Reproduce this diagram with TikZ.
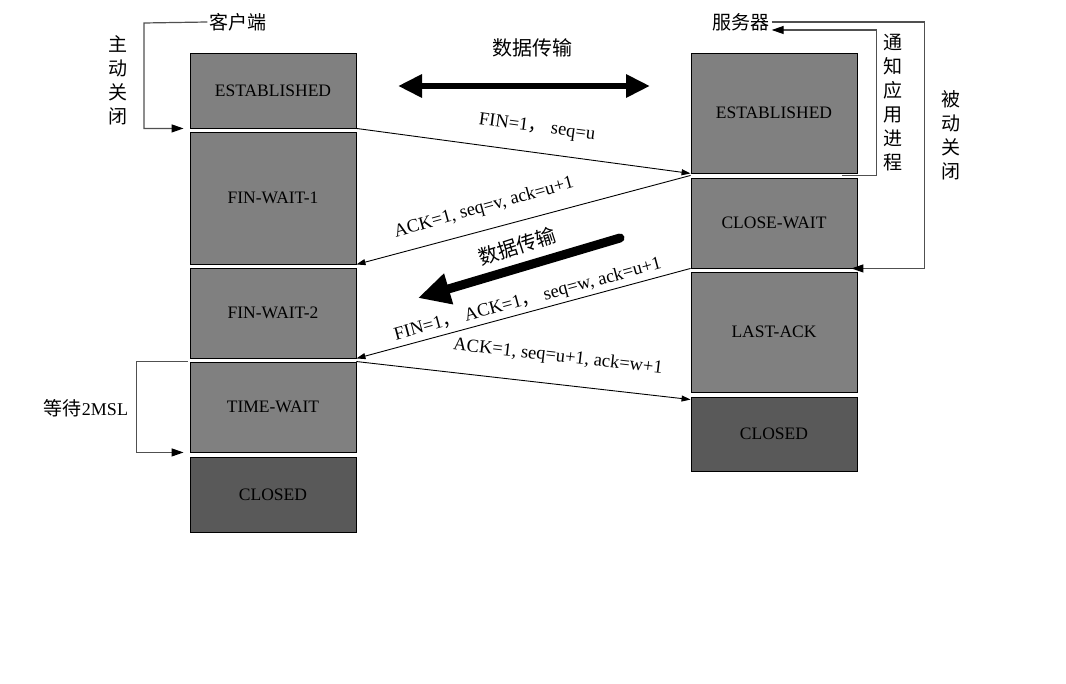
\documentclass[tikz,border=0pt]{standalone}
\usepackage{fontspec}
\setmainfont{Liberation Serif}
\newfontfamily\cjk{Noto Sans CJK SC}
\usetikzlibrary{arrows.meta}
\definecolor{boxgray}{HTML}{808080}
\definecolor{boxdark}{HTML}{595959}
\definecolor{brkgray}{HTML}{505050}
\begin{document}
\begin{tikzpicture}[x=1pt,y=-1pt,
  box/.style={draw=black, line width=0.9pt, fill=boxgray, minimum width=166pt, inner sep=0pt, font=\fontsize{17.5}{20}\selectfont},
  darkbox/.style={box, fill=boxdark},
  msg/.style={draw=black, line width=0.9pt, -{Triangle[length=9pt,width=6pt]}},
  brk/.style={draw=brkgray, line width=1.2pt, -{Triangle[length=12pt,width=8pt,color=black]}},
  lbl/.style={font=\fontsize{18.5}{22}\selectfont, inner sep=0pt},
  cjklbl/.style={font=\cjk\fontsize{19}{24}\selectfont, inner sep=2pt},
  vtext/.style={font=\cjk\fontsize{19}{24}\selectfont, align=center, inner sep=0pt}
]
\useasboundingbox (0,0) rectangle (1066,684);

% client boxes
\node[box, minimum height=75pt]  (lE)  at (273,90.5) {ESTABLISHED};
\node[box, minimum height=132pt] (lF1) at (273,198) {FIN-WAIT-1};
\node[box, minimum height=90pt]  (lF2) at (273,313) {FIN-WAIT-2};
\node[box, minimum height=90pt]  (lTW) at (273,407) {TIME-WAIT};
\node[darkbox, minimum height=75pt] (lC) at (273,494.5) {CLOSED};

% server boxes
\node[box, minimum height=120pt] (rE)  at (774,113) {ESTABLISHED};
\node[box, minimum height=90pt]  (rCW) at (774,223) {CLOSE-WAIT};
\node[box, minimum height=120pt] (rLA) at (774,332) {LAST-ACK};
\node[darkbox, minimum height=74pt] (rC) at (774,434) {CLOSED};

% headings
\node[cjklbl] (client) at (238,22) {客户端};
\node[cjklbl] (server) at (741,22) {服务器};
\node[cjklbl, font=\cjk\fontsize{20}{24}\selectfont] (dt1) at (532,48) {数据传输};

% vertical labels
\node[vtext] (active) at (118,80) {主\\动\\关\\闭};
\node[vtext] (notify) at (893,103) {通\\知\\应\\用\\进\\程};
\node[vtext] (passive) at (951,135) {被\\动\\关\\闭};
\node[inner sep=0pt] (wait) at (86,408) {{\cjk\fontsize{19}{24}\selectfont 等待}{\fontsize{18}{22}\selectfont 2MSL}};

% brackets
\draw[brk] (client.west) -- (144,23) |- ([xshift=-6pt]lE.south west);
\draw[brk] ([xshift=-2pt]lTW.north west) -- ++(-51,0) |- ([xshift=-6pt]lTW.south west);
\draw[brk] (server.east) -- ++(153,0) |- ([xshift=-6pt]rCW.south east);
\draw[brk] ([xshift=-15pt,yshift=-2pt]rE.south east) -- ++(34,0) |- ([yshift=-8pt]server.east);

% messages
\draw[msg] (lE.south east) -- (rE.south west);
\draw[msg] ([yshift=-2pt]rE.south west) -- (lF1.south east);
\draw[msg] (rCW.south west) -- (lF2.south east);
\draw[msg] (lTW.north east) -- ([yshift=-3pt]rC.north west);

\node[lbl, rotate=-7.6] (m1) at (537,128) {FIN=1{\cjk ，}\ seq=u};
\node[lbl, rotate=15.5] (m2) at (484,208) {ACK=1, seq=v, ack=u+1};
\node[lbl, rotate=15.1] (m3) at (528,300) {FIN=1{\cjk ，}\ ACK=1{\cjk ，}\ seq=w, ack=u+1};
\node[lbl, rotate=-6.5] (m4) at (558,357) {ACK=1, seq=u+1, ack=w+1};

% data transfer arrows
\coordinate (da) at (398,86);
\coordinate (db) at (650,86);
\draw[line width=6pt, {Triangle[length=24pt,width=22pt]}-{Triangle[length=24pt,width=22pt]}] (da) -- (db);

\coordinate (ds) at (620,238);
\coordinate (de) at (418,298);
\draw[line width=9pt, line cap=round, -{Triangle[length=32pt,width=30pt]}] (ds) -- (de);
\node[cjklbl, rotate=18, font=\cjk\fontsize{20}{24}\selectfont] (dt2) at (517,246) {数据传输};
\end{tikzpicture}
\end{document}
